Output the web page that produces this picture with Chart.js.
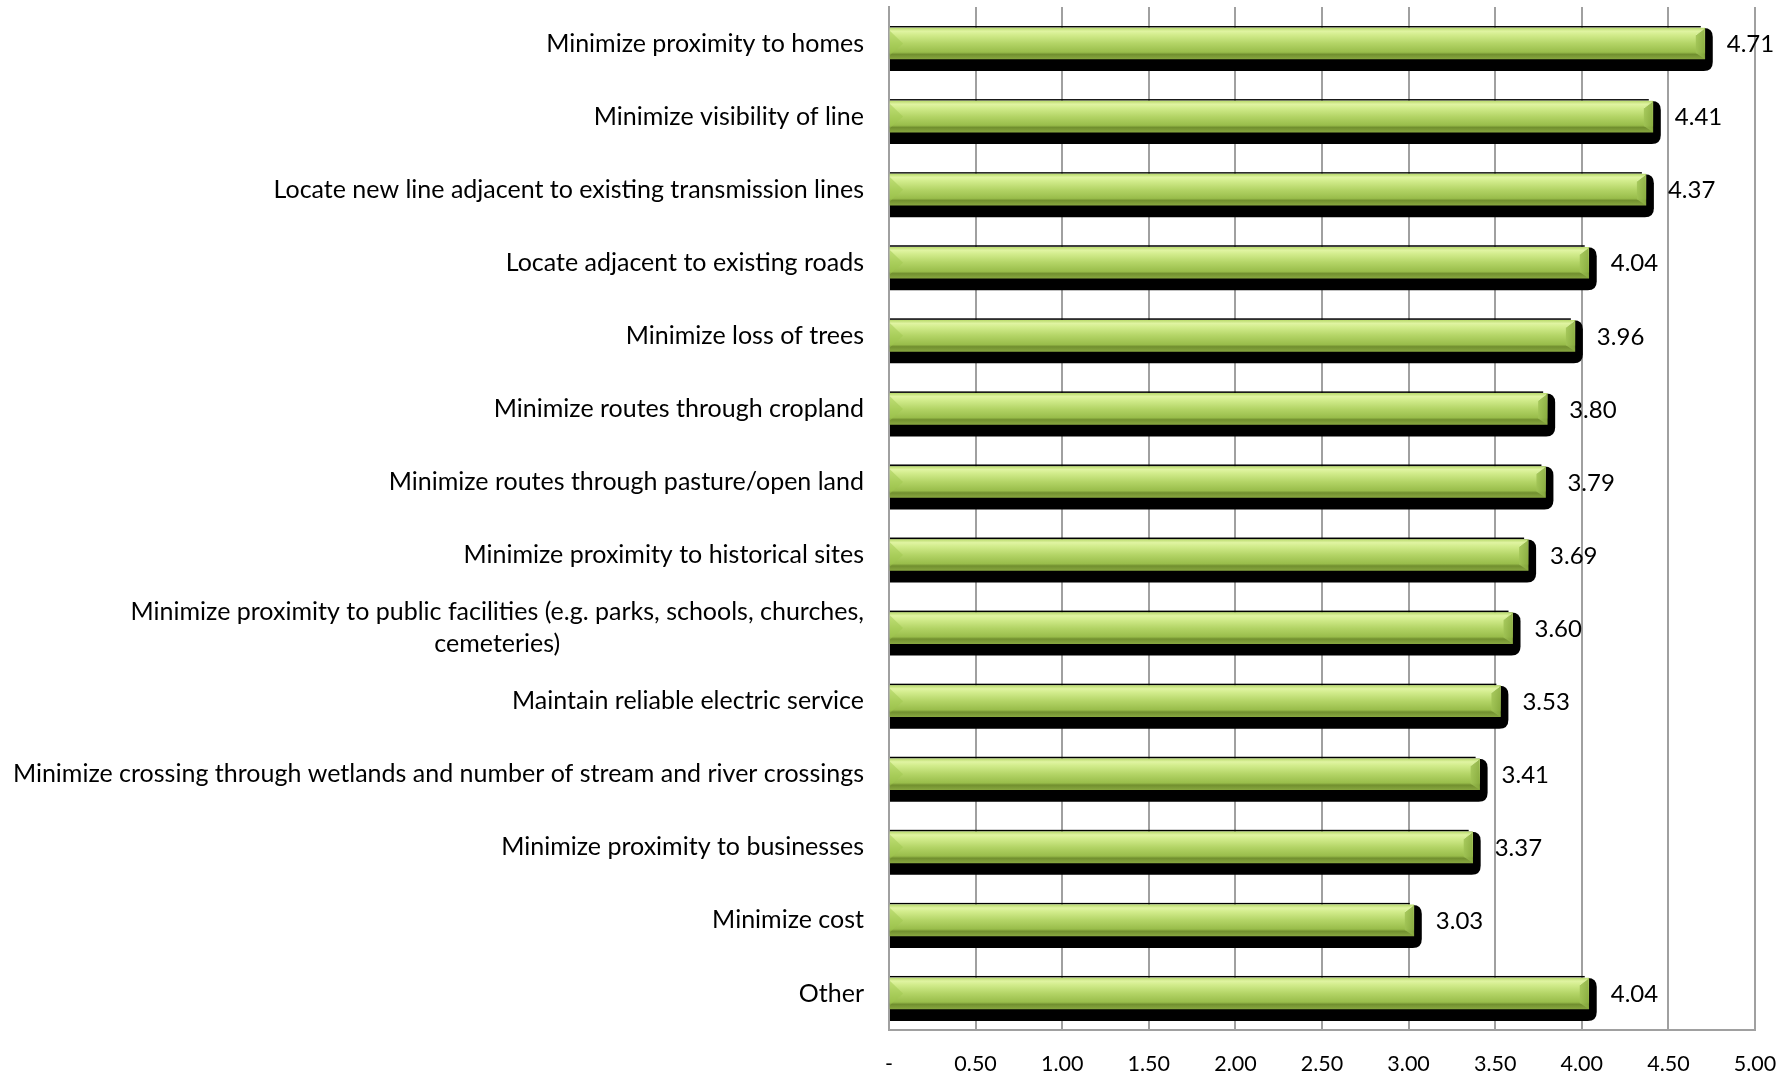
<!DOCTYPE html>
<html>
<head>
<meta charset="utf-8">
<script src="https://cdn.jsdelivr.net/npm/chart.js@4.4.1/dist/chart.umd.min.js"></script>
<style>
  html, body { margin:0; padding:0; background:#fff; }
  #wrap { width:1790px; height:1077px; }
</style>
</head>
<body>
<div id="wrap"><canvas id="chartPriorities"></canvas></div>
<script>
// routing criteria and their average importance scores
const categories = [
  'Minimize proximity to homes',
  'Minimize visibility of line',
  'Locate new line adjacent to existing transmission lines',
  'Locate adjacent to existing roads',
  'Minimize loss of trees',
  'Minimize routes through cropland',
  'Minimize routes through pasture/open land',
  'Minimize proximity to historical sites',
  ['Minimize proximity to public facilities (e.g. parks, schools, churches,', 'cemeteries)'],
  'Maintain reliable electric service',
  'Minimize crossing through wetlands and number of stream and river crossings',
  'Minimize proximity to businesses',
  'Minimize cost',
  'Other'
];
const scores = [4.71, 4.41, 4.37, 4.04, 3.96, 3.80, 3.79, 3.69, 3.60, 3.53, 3.41, 3.37, 3.03, 4.04];
const xTicks = [0, 0.5, 1, 1.5, 2, 2.5, 3, 3.5, 4, 4.5, 5];

const FONT = 'Lato, "Open Sans", sans-serif';
const BAR_H = 31;

// vertical green gradient for one bar, top -> bottom
function barGradient(ctx, top, bottom){
  const g = ctx.createLinearGradient(0, top, 0, bottom);
  g.addColorStop(0, '#bcdc70');
  g.addColorStop(0.1, '#e0f4a2');
  g.addColorStop(0.22, '#d2ec8c');
  g.addColorStop(0.5, '#b3d466');
  g.addColorStop(0.78, '#99bd4b');
  g.addColorStop(0.85, '#718f2f');
  g.addColorStop(1, '#87a63f');
  return g;
}

function roundRightRect(ctx, x0, y0, x1, y1, r){
  ctx.beginPath();
  ctx.moveTo(x0, y0);
  ctx.lineTo(x1 - r, y0);
  ctx.quadraticCurveTo(x1, y0, x1, y0 + r);
  ctx.lineTo(x1, y1 - r);
  ctx.quadraticCurveTo(x1, y1, x1 - r, y1);
  ctx.lineTo(x0, y1);
  ctx.closePath();
}

// black drop shadow behind each bar + thin top edge, bevels and value labels on top
const barShadow = {
  id: 'barShadow',
  beforeDatasetsDraw(chart){
    const ctx = chart.ctx;
    const meta = chart.getDatasetMeta(0);
    ctx.save();
    meta.data.forEach(el=>{
      const top = el.y - el.height/2, bot = el.y + el.height/2;
      ctx.fillStyle = '#000';
      roundRightRect(ctx, el.base, top, el.x + 8, bot + 12, 9);
      ctx.fill();
      ctx.fillRect(el.base, top - 2, el.x - el.base - 4, 1.5);
    });
    ctx.restore();
  },
  afterDatasetsDraw(chart){
    const ctx = chart.ctx;
    const meta = chart.getDatasetMeta(0);
    ctx.save();
    meta.data.forEach((el, i)=>{
      const top = el.y - el.height/2, bot = el.y + el.height/2, mid = el.y;
      // bevel on the left end
      ctx.fillStyle = 'rgba(160,200,80,0.5)';
      ctx.beginPath();
      ctx.moveTo(el.base, top + 3); ctx.lineTo(el.base + 13, mid); ctx.lineTo(el.base, bot - 4);
      ctx.closePath(); ctx.fill();
      // bevel on the right end
      const g = ctx.createLinearGradient(el.x - 9, 0, el.x, 0);
      g.addColorStop(0, 'rgba(160,195,85,0.85)');
      g.addColorStop(1, 'rgba(135,170,62,0.85)');
      ctx.fillStyle = g;
      ctx.beginPath();
      ctx.moveTo(el.x, top); ctx.lineTo(el.x, bot);
      ctx.lineTo(el.x - 9, bot - 6); ctx.lineTo(el.x - 9, top + 7);
      ctx.closePath(); ctx.fill();
      ctx.strokeStyle = 'rgba(225,245,170,0.8)';
      ctx.lineWidth = 1;
      ctx.beginPath(); ctx.moveTo(el.x - 1, top + 1); ctx.lineTo(el.x - 9, top + 7); ctx.stroke();
      // value label
      ctx.fillStyle = '#000';
      ctx.font = '24px ' + FONT;
      ctx.textAlign = 'left';
      ctx.textBaseline = 'middle';
      ctx.fillText(scores[i].toFixed(2), el.x + 22, mid + 1);
    });
    ctx.restore();
  }
};

// category labels: right aligned block, wrapped lines centred on each other
const catLabels = {
  id: 'catLabels',
  afterDraw(chart){
    const ctx = chart.ctx;
    const y = chart.scales.y;
    const right = chart.chartArea.left - 25;
    ctx.save();
    ctx.font = '25px ' + FONT;
    ctx.fillStyle = '#000';
    ctx.textBaseline = 'middle';
    ctx.textAlign = 'center';
    categories.forEach((lab, i)=>{
      const lines = Array.isArray(lab) ? lab : [lab];
      const w = Math.max(...lines.map(l=>ctx.measureText(l).width));
      const cx = right - w/2;
      const cy = y.getPixelForValue(i);
      const lh = 32;
      lines.forEach((l, k)=>{
        ctx.fillText(l, cx, cy + (k - (lines.length-1)/2) * lh);
      });
    });
    ctx.restore();
  }
};

new Chart(document.getElementById('chartPriorities'), {
  type: 'bar',
  data: {
    labels: categories,
    datasets: [{
      data: scores,
      backgroundColor: (c)=>{
        const chart = c.chart;
        const ys = chart.scales && chart.scales.y;
        if(!ys || c.dataIndex === undefined) return '#b3d466';
        const cy = ys.getPixelForValue(c.dataIndex);
        if(!isFinite(cy)) return '#b3d466';
        return barGradient(chart.ctx, cy - BAR_H/2, cy + BAR_H/2);
      },
      borderWidth: 0,
      barThickness: BAR_H
    }]
  },
  options: {
    indexAxis: 'y',
    responsive: true,
    maintainAspectRatio: false,
    animation: false,
    layout: { padding: { top: 7, right: 35, left: 0, bottom: 0 } },
    plugins: { legend: { display:false }, tooltip: { enabled:false } },
    scales: {
      x: {
        min: 0, max: 5,
        afterBuildTicks: (s)=>{ s.ticks = xTicks.map(v=>({value:v})); },
        afterFit: (s)=>{ s.height = 47; s.paddingRight = 0; },
        grid: { color:'#a0a0a0', lineWidth:2, drawTicks:false },
        border: { color:'#a0a0a0', width:2 },
        ticks: {
          padding: 21,
          color:'#000',
          font: { size:21.5, family: FONT },
          callback: (v)=> v === 0 ? '-' : Number(v).toFixed(2)
        }
      },
      y: {
        afterFit: (s)=>{ s.width = 889; },
        grid: { display:false },
        border: { color:'#a0a0a0', width:2 },
        ticks: { display:false }
      }
    }
  },
  plugins: [barShadow, catLabels]
});
</script>
</body>
</html>
